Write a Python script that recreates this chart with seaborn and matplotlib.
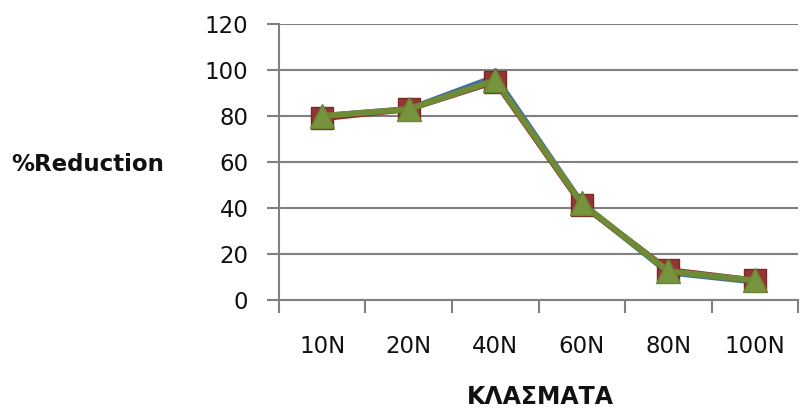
import matplotlib
matplotlib.use("Agg")
import matplotlib.pyplot as plt
import seaborn as sns
import pandas as pd
import numpy as np

# Fractions on the x axis
categories = ["10N", "20N", "40N", "60N", "80N", "100N"]

# % reduction for the three series
series_1 = [80, 83, 97, 42, 12, 8]
series_2 = [79, 83, 95, 41.5, 13, 8.5]
series_3 = [80, 83, 95.5, 42, 12.5, 8.5]

y_ticks = [0, 20, 40, 60, 80, 100, 120]

sns.set_theme(style="white")
plt.rcParams["font.family"] = ["DejaVu Sans"]

fig = plt.figure(figsize=(8.04, 4.12), dpi=100)
ax = fig.add_axes([279 / 804, (412 - 300) / 412, (798 - 279) / 804, (300 - 24) / 412])

frames = []
for name, vals in (("s1", series_1), ("s2", series_2), ("s3", series_3)):
    frames.append(pd.DataFrame({"cat": categories, "val": vals, "series": name}))
df = pd.concat(frames, ignore_index=True)

styles = {
    "s1": dict(color="#3F6DA8", marker="D", markersize=9, mfc="#4F81BD", mec="#385D8A"),
    "s2": dict(color="#8E2F2D", marker="s", markersize=16, mfc="#943634", mec="#7A2826"),
    "s3": dict(color="#6F8B35", marker="^", markersize=17, mfc="#77933C", mec="#6A8535"),
}
for name in ("s1", "s2", "s3"):
    sub = df[df["series"] == name]
    st = styles[name]
    sns.lineplot(data=sub, x="cat", y="val", ax=ax, sort=False, linewidth=4.3,
                 color=st["color"], marker=st["marker"], markersize=st["markersize"],
                 markerfacecolor=st["mfc"], markeredgecolor=st["mec"],
                 markeredgewidth=1.0, zorder=3)

ax.set_xlim(-0.5, len(categories) - 0.5)
ax.set_ylim(0, 120)
ax.set_yticks(y_ticks)
ax.set_yticklabels([str(t) for t in y_ticks], fontsize=16.5, color="#111111")
ax.set_xticks(range(len(categories)))
ax.set_xticklabels(categories, fontsize=16.5, color="#111111")
ax.tick_params(axis="x", which="major", length=0, pad=25)
ax.set_xticks(np.arange(-0.5, len(categories), 1.0), minor=True)
ax.tick_params(axis="x", which="minor", length=9, width=1.5, color="#808080", direction="out", bottom=True)
ax.tick_params(axis="y", which="major", length=9, width=1.5, color="#808080", direction="out", left=True, pad=13)

ax.grid(axis="y", color="#808080", linewidth=1.5)
ax.set_axisbelow(True)
for side in ("top", "right"):
    ax.spines[side].set_visible(False)
for side in ("left", "bottom"):
    ax.spines[side].set_color("#808080")
    ax.spines[side].set_linewidth(1.5)

ax.set_xlabel("")
ax.set_ylabel("")
legend = ax.get_legend()
if legend is not None:
    legend.remove()

fig.text(88 / 804, 1 - 165 / 412, "%Reduction", fontsize=16.5, fontweight="bold",
         ha="center", va="center", color="#111111")
fig.text(540 / 804, 1 - 397 / 412, "ΚΛΑΣΜΑΤΑ", fontsize=17, fontweight="bold",
         ha="center", va="center", color="#111111")

fig.savefig("out.png", dpi=100, facecolor="white")
